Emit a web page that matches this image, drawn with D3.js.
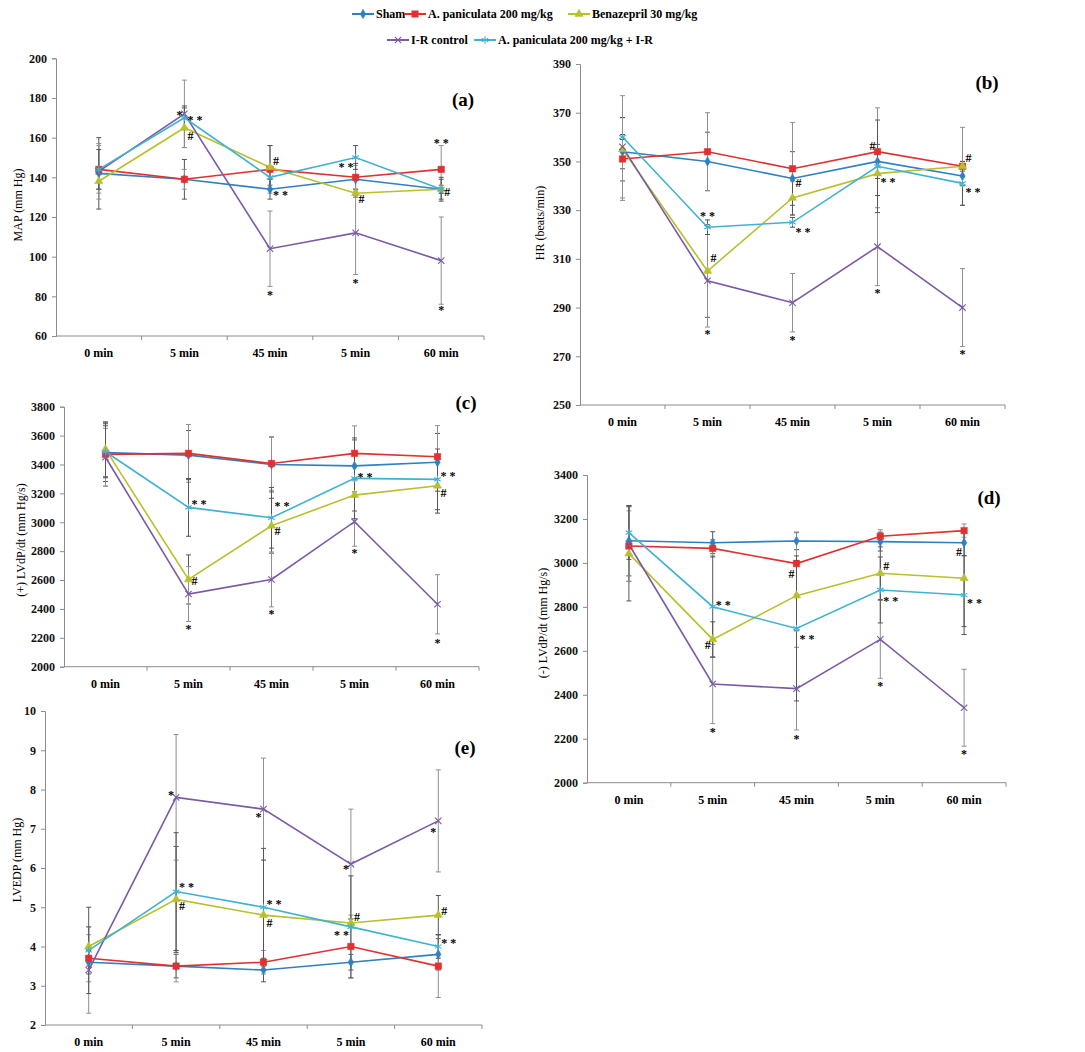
<!DOCTYPE html>
<html>
<head>
<meta charset="utf-8">
<script src="https://cdn.jsdelivr.net/npm/d3@7/dist/d3.min.js"></script>
<style>
body { margin: 0; background: #fff; }
svg text { font-family: "Liberation Serif", "Times New Roman", serif; }
</style>
</head>
<body>
<div id="wrapper"></div>
<script>
// categories and series
const categories = ["0 min", "5 min", "45 min", "5 min", "60 min"];
const seriesNames = ["Sham", "A. paniculata 200 mg/kg", "Benazepril 30 mg/kg", "I-R control", "A. paniculata 200 mg/kg + I-R"];

// (a) MAP
const mapTicks = [60, 80, 100, 120, 140, 160, 180, 200];
const mapValues = [
    [142, 139, 134, 139, 134],
    [144, 139, 144, 140, 144],
    [138, 165, 145, 132, 134],
    [143, 172, 104, 112, 98],
    [144, 170, 140, 150, 134]
];
const mapErrors = [
    [18, 10, 5, 8, 5],
    [12, 5, 12, 6, 12],
    [4, 10, 11, 2, 2],
    [14, 17, 19, 21, 22],
    [10, 6, 4, 6, 6]
];
const mapNotes = [
    [1, 172.4, "*", "l"], [1, 170, "* *", "r"], [1, 160.8, "#", "r"],
    [2, 148.2, "#", "r"], [2, 132, "* *", "r"], [2, 81.6, "*", "c"],
    [3, 146.2, "* *", "l"], [3, 129, "#", "r"], [3, 87.7, "*", "c"],
    [4, 158.3, "* *", "c"], [4, 132.6, "#", "r"], [4, 73.9, "*", "c"]
];

// (b) HR
const hrTicks = [250, 270, 290, 310, 330, 350, 370, 390];
const hrValues = [
    [354, 350, 343, 350, 344],
    [351, 354, 347, 354, 348],
    [355, 305, 335, 345, 348],
    [356, 301, 292, 315, 290],
    [360, 323, 325, 348, 341]
];
const hrErrors = [
    [7, 12, 11, 7, 4],
    [17, 16, 19, 18, 16],
    [13, 19, 7, 9, 2],
    [21, 19, 12, 16, 16],
    [1, 3, 2, 19, 9]
];
const hrNotes = [
    [1, 328.5, "* *", "c"], [1, 310.3, "#", "r"], [1, 279.8, "*", "c"],
    [2, 341.1, "#", "r"], [2, 321.9, "* *", "r"], [2, 277.5, "*", "c"],
    [3, 356.4, "#", "l"], [3, 342.2, "* *", "r"], [3, 296.6, "*", "c"],
    [4, 351.3, "#", "r"], [4, 338.3, "* *", "r"], [4, 271.7, "*", "c"]
];

// (c) (+) LVdP/dt
const plusTicks = [2000, 2200, 2400, 2600, 2800, 3000, 3200, 3400, 3600, 3800];
const plusValues = [
    [3482, 3465, 3400, 3390, 3415],
    [3470, 3477, 3407, 3477, 3454],
    [3505, 2604, 2976, 3188, 3253],
    [3450, 2503, 2604, 3004, 2432],
    [3488, 3103, 3031, 3304, 3297]
];
const plusErrors = [
    [200, 170, 190, 180, 200],
    [220, 200, 185, 190, 215],
    [190, 170, 190, 110, 190],
    [200, 190, 190, 170, 205],
    [180, 200, 210, 280, 210]
];
const plusNotes = [
    [1, 3138, "* *", "r"], [1, 2595, "#", "r"], [1, 2277, "*", "c"],
    [2, 3124, "* *", "r"], [2, 2942, "#", "r"], [2, 2381, "*", "c"],
    [3, 3327, "* *", "r"], [3, 2801, "*", "c"],
    [4, 3331, "* *", "r"], [4, 3200, "#", "r"], [4, 2180, "*", "c"]
];

// (d) (-) LVdP/dt
const minusTicks = [2000, 2200, 2400, 2600, 2800, 3000, 3200, 3400];
const minusValues = [
    [3101, 3092, 3100, 3097, 3092],
    [3077, 3066, 2997, 3121, 3147],
    [3042, 2652, 2851, 2953, 2930],
    [3085, 2449, 2428, 2652, 2341],
    [3138, 2801, 2702, 2877, 2854]
];
const minusErrors = [
    [160, 50, 40, 43, 60],
    [160, 40, 140, 30, 30],
    [215, 80, 160, 120, 220],
    [170, 180, 188, 177, 175],
    [122, 230, 330, 150, 180]
];
const minusNotes = [
    [1, 2816, "* *", "r"], [1, 2629, "#", "l"], [1, 2240, "*", "c"],
    [2, 2948, "#", "l"], [2, 2664, "* *", "r"], [2, 2209, "*", "c"],
    [3, 2986, "#", "r"], [3, 2834, "* *", "r"], [3, 2447, "*", "c"],
    [4, 3048, "#", "l"], [4, 2827, "* *", "r"], [4, 2138, "*", "c"]
];

// (e) LVEDP
const edpTicks = [2, 3, 4, 5, 6, 7, 8, 9, 10];
const edpValues = [
    [3.6, 3.5, 3.4, 3.6, 3.8],
    [3.7, 3.5, 3.6, 4.0, 3.5],
    [4.0, 5.2, 4.8, 4.6, 4.8],
    [3.4, 7.8, 7.5, 6.1, 7.2],
    [3.9, 5.4, 5.0, 4.5, 4.0]
];
const edpErrors = [
    [0.3, 0.3, 0.3, 0.2, 0.4],
    [0.6, 0.4, 0.3, 0.8, 0.8],
    [0.5, 1.35, 1.4, 0.1, 0.5],
    [1.1, 1.6, 1.3, 1.4, 1.3],
    [1.1, 1.5, 1.5, 1.3, 0.3]
];
const edpNotes = [
    [1, 7.92, "*", "l"], [1, 5.57, "* *", "r"], [1, 5.03, "#", "r"],
    [2, 7.35, "*", "l"], [2, 5.14, "* *", "r"], [2, 4.6, "#", "r"],
    [3, 6.02, "*", "l"], [3, 4.34, "* *", "l"], [3, 4.76, "#", "r"],
    [4, 6.97, "*", "l"], [4, 4.9, "#", "r"], [4, 4.15, "* *", "r"]
];

// styles
const colors = ["#2f80c0", "#e03030", "#b8c02c", "#7a5aa6", "#3fb2d2"];
const symbols = [d3.symbolDiamond, d3.symbolSquare, d3.symbolTriangle, d3.symbolX, d3.symbolAsterisk];
const symbolSizes = [26, 42, 30, 28, 40];
const filled = [true, true, true, false, false];

const panels = [
    {name: "(a)", values: mapValues, errors: mapErrors, notes: mapNotes, ticks: mapTicks, title: "MAP (mm Hg)",
     left: 56, right: 484, top: 58.3, bottom: 336, titleX: 18, titleY: 205, labelX: 463, labelY: 99},
    {name: "(b)", values: hrValues, errors: hrErrors, notes: hrNotes, ticks: hrTicks, title: "HR (beats/min)",
     left: 580, right: 1005, top: 64, bottom: 405, titleX: 540, titleY: 223, labelX: 987, labelY: 82},
    {name: "(c)", values: plusValues, errors: plusErrors, notes: plusNotes, ticks: plusTicks, title: "(+) LVdP/dt (mm Hg/s)",
     left: 64, right: 479, top: 406.7, bottom: 666.7, titleX: 21, titleY: 540, labelX: 466, labelY: 402},
    {name: "(d)", values: minusValues, errors: minusErrors, notes: minusNotes, ticks: minusTicks, title: "(-) LVdP/dt  (mm Hg/s)",
     left: 587, right: 1006, top: 475, bottom: 782.7, titleX: 543, titleY: 623, labelX: 989, labelY: 497},
    {name: "(e)", values: edpValues, errors: edpErrors, notes: edpNotes, ticks: edpTicks, title: "LVEDP (mm Hg)",
     left: 45, right: 482, top: 711, bottom: 1025, titleX: 17, titleY: 860, labelX: 465, labelY: 747}
];

const svg = d3.select("#wrapper")
    .append("svg")
    .attr("width", 1085)
    .attr("height", 1052);

function marker(sel, i) {
    sel.attr("d", d3.symbol().type(symbols[i]).size(symbolSizes[i]))
        .attr("fill", filled[i] ? colors[i] : "none")
        .attr("stroke", colors[i])
        .attr("stroke-width", filled[i] ? 0.5 : 1.1);
}

function drawPanel(p) {
    const g = svg.append("g");
    const x = d3.scaleBand().domain(d3.range(categories.length)).range([p.left, p.right]);
    const y = d3.scaleLinear().domain(d3.extent(p.ticks)).range([p.bottom, p.top]);
    const cx = i => x(i) + x.bandwidth() / 2;

    // y axis
    const yAxis = g.append("g")
        .attr("transform", `translate(${p.left},0)`)
        .call(d3.axisLeft(y).tickValues(p.ticks).tickFormat(d3.format("d")).tickSize(4).tickPadding(5));
    // x axis, ticks at band edges
    const edges = d3.range(categories.length + 1).map(i => p.left + i * x.bandwidth());
    const xAxis = g.append("g").attr("transform", `translate(0,${p.bottom})`);
    xAxis.append("line").attr("x1", p.left).attr("x2", p.right).attr("stroke", "#8c8c8c");
    xAxis.selectAll(".edge").data(edges.slice(1)).enter().append("line")
        .attr("x1", d => d).attr("x2", d => d).attr("y1", 0).attr("y2", 4)
        .attr("stroke", "#8c8c8c");
    xAxis.selectAll("text").data(categories).enter().append("text")
        .attr("x", (d, i) => cx(i))
        .attr("y", 21)
        .attr("text-anchor", "middle")
        .attr("font-size", 12)
        .attr("font-weight", "bold")
        .text(d => d);

    yAxis.select(".domain").attr("stroke", "#8c8c8c");
    yAxis.selectAll(".tick line").attr("stroke", "#8c8c8c");
    yAxis.selectAll(".tick text")
        .attr("font-size", 12)
        .attr("font-weight", "bold")
        .attr("fill", "#111");

    // y title
    g.append("text")
        .attr("transform", `translate(${p.titleX},${p.titleY}) rotate(-90)`)
        .attr("text-anchor", "middle")
        .attr("dominant-baseline", "central")
        .attr("font-size", 12)
        .text(p.title);

    // error bars
    p.values.forEach((vals, s) => {
        const eb = g.append("g").attr("stroke", s % 2 === 0 ? "#555" : "#8f8f8f").attr("stroke-width", 1);
        vals.forEach((v, i) => {
            const e = p.errors[s][i];
            const lo = y(v - e), hi = y(v + e);
            eb.append("line").attr("x1", cx(i)).attr("x2", cx(i)).attr("y1", lo).attr("y2", hi);
            eb.append("line").attr("x1", cx(i) - 2.5).attr("x2", cx(i) + 2.5).attr("y1", lo).attr("y2", lo);
            eb.append("line").attr("x1", cx(i) - 2.5).attr("x2", cx(i) + 2.5).attr("y1", hi).attr("y2", hi);
        });
    });

    // lines
    const line = d3.line().x((d, i) => cx(i)).y(d => y(d));
    p.values.forEach((vals, s) => {
        g.append("path")
            .datum(vals)
            .attr("d", line)
            .attr("fill", "none")
            .attr("stroke", colors[s])
            .attr("stroke-width", 1.6);
    });

    // markers
    p.values.forEach((vals, s) => {
        g.selectAll(null).data(vals).enter().append("path")
            .attr("transform", (d, i) => `translate(${cx(i)},${y(d)})`)
            .call(marker, s);
    });

    // significance marks
    g.selectAll(".note").data(p.notes).enter().append("text")
        .attr("x", d => d[3] === "r" ? cx(d[0]) + 3 : d[3] === "l" ? cx(d[0]) - 2 : cx(d[0]))
        .attr("y", d => y(d[1]))
        .attr("dy", d => d[2].includes("*") ? "0.5em" : "0.34em")
        .attr("text-anchor", d => d[3] === "r" ? "start" : d[3] === "l" ? "end" : "middle")
        .attr("font-size", 12)
        .attr("font-weight", "bold")
        .text(d => d[2]);

    // panel label
    g.append("text")
        .attr("x", p.labelX)
        .attr("y", p.labelY)
        .attr("dy", "0.35em")
        .attr("text-anchor", "middle")
        .attr("font-size", 19)
        .attr("font-weight", "bold")
        .text(p.name);
}

panels.forEach(drawPanel);

// legend
const legendPos = [[352, 14], [404, 14], [568, 14], [387, 40], [474, 40]];
const legend = svg.append("g");
seriesNames.forEach((name, i) => {
    const [lx, ly] = legendPos[i];
    const item = legend.append("g").attr("transform", `translate(${lx},${ly})`);
    item.append("line").attr("x1", 0).attr("x2", 22).attr("stroke", colors[i]).attr("stroke-width", 2);
    item.append("path").attr("transform", "translate(11,0)").call(marker, i);
    item.append("text")
        .attr("x", 24)
        .attr("dy", "0.35em")
        .attr("font-size", 12)
        .attr("font-weight", "bold")
        .text(name);
});
</script>
</body>
</html>
